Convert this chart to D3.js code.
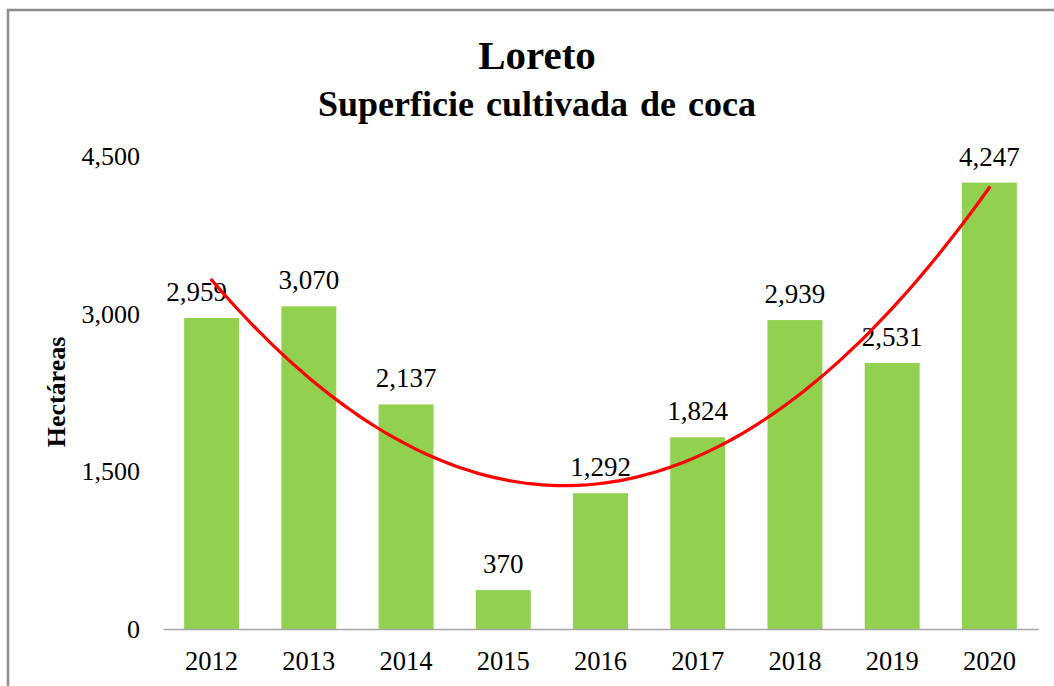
<!DOCTYPE html>
<html>
<head>
<meta charset="utf-8">
<script src="https://cdn.jsdelivr.net/npm/d3@7"></script>
<style>
  body { margin: 0; background: #fff; }
  text { font-family: "Liberation Serif", "Times New Roman", serif; fill: #000; }
</style>
</head>
<body>
<div id="chart"></div>
<script>
const years = ["2012", "2013", "2014", "2015", "2016", "2017", "2018", "2019", "2020"];
const hectareas = [2959, 3070, 2137, 370, 1292, 1824, 2939, 2531, 4247];
const yTicks = [0, 1500, 3000, 4500];

const width = 1054, height = 686;
const margin = { top: 156, right: 16, bottom: 57, left: 163 };

const svg = d3.select("#chart").append("svg")
    .attr("width", width)
    .attr("height", height);

// chart border (runs off the right and bottom of the picture)
svg.append("rect")
    .attr("x", 8).attr("y", 10)
    .attr("width", 1080).attr("height", 700)
    .attr("fill", "#fff")
    .attr("stroke", "#8c8c8c")
    .attr("stroke-width", 2.5);

const x = d3.scaleBand()
    .domain(years)
    .range([margin.left, width - margin.right])
    .paddingInner(0.435)
    .paddingOuter(0.2175);

const y = d3.scaleLinear()
    .domain([0, 4500])
    .range([height - margin.bottom, margin.top]);

const fmt = d3.format(",");

// titles
svg.append("text")
    .attr("x", 537).attr("y", 69)
    .attr("text-anchor", "middle")
    .style("font-size", "41px")
    .style("font-weight", "bold")
    .text("Loreto");

svg.append("text")
    .attr("x", 537).attr("y", 116)
    .attr("text-anchor", "middle")
    .style("font-size", "36px")
    .style("font-weight", "bold")
    .style("word-spacing", "3px")
    .text("Superficie cultivada de coca");

svg.append("text")
    .attr("transform", "translate(65,392) rotate(-90)")
    .attr("text-anchor", "middle")
    .style("font-size", "26px")
    .style("font-weight", "bold")
    .text("Hectáreas");

// y axis: labels only
const yAxis = svg.append("g")
    .attr("transform", `translate(${margin.left},0)`)
    .call(d3.axisLeft(y).tickValues(yTicks).tickFormat(fmt).tickSize(0).tickPadding(23));
yAxis.select(".domain").remove();
yAxis.selectAll("text")
    .style("font-size", "26px")
    .style("font-family", "Liberation Serif, serif")
    .attr("dy", "0.33em");

// bars
svg.append("g")
    .selectAll("rect")
    .data(hectareas)
    .join("rect")
    .attr("x", (d, i) => x(years[i]))
    .attr("y", d => y(d))
    .attr("width", x.bandwidth())
    .attr("height", d => y(0) - y(d))
    .attr("fill", "#92D050");

// x axis
const xAxis = svg.append("g")
    .attr("transform", `translate(0,${y(0)})`)
    .call(d3.axisBottom(x).tickSize(0).tickPadding(22));
xAxis.select(".domain")
    .attr("stroke", "#a6a6a6")
    .attr("stroke-width", 1.5);
xAxis.selectAll("text")
    .style("font-size", "26.5px")
    .style("font-family", "Liberation Serif, serif");

// data labels (the first one sits a little to the left, as in the original)
svg.append("g")
    .selectAll("text")
    .data(hectareas)
    .join("text")
    .attr("x", (d, i) => x(years[i]) + x.bandwidth() / 2 + (i === 0 ? -15 : 0))
    .attr("y", d => y(d) - 17)
    .attr("text-anchor", "middle")
    .style("font-size", "27px")
    .text(d => fmt(d));

// polynomial (order 2) trend line, least-squares fit of the bar values
function quadFit(ys) {
  let s = [0, 0, 0, 0, 0], t = [0, 0, 0];
  ys.forEach((v, i) => {
    const xi = i + 1;
    for (let k = 0; k < 5; k++) s[k] += Math.pow(xi, k);
    for (let k = 0; k < 3; k++) t[k] += v * Math.pow(xi, k);
  });
  const m = [[s[0], s[1], s[2], t[0]], [s[1], s[2], s[3], t[1]], [s[2], s[3], s[4], t[2]]];
  for (let c = 0; c < 3; c++) {
    for (let r = c + 1; r < 3; r++) {
      const f = m[r][c] / m[c][c];
      for (let k = c; k < 4; k++) m[r][k] -= f * m[c][k];
    }
  }
  const coef = [0, 0, 0];
  for (let r = 2; r >= 0; r--) {
    let v = m[r][3];
    for (let k = r + 1; k < 3; k++) v -= m[r][k] * coef[k];
    coef[r] = v / m[r][r];
  }
  return xi => coef[0] + coef[1] * xi + coef[2] * xi * xi;
}
const trend = quadFit(hectareas);

const xi = d3.scaleLinear()
    .domain([1, years.length])
    .range([x(years[0]) + x.bandwidth() / 2, x(years[years.length - 1]) + x.bandwidth() / 2]);

const steps = d3.range(1, years.length + 0.001, 0.1);

svg.append("path")
    .datum(steps)
    .attr("fill", "none")
    .attr("stroke", "#ff0000")
    .attr("stroke-width", 3.2)
    .attr("stroke-linecap", "round")
    .attr("d", d3.line()
        .x(d => xi(d))
        .y(d => y(trend(d)))
        .curve(d3.curveMonotoneX));
</script>
</body>
</html>
